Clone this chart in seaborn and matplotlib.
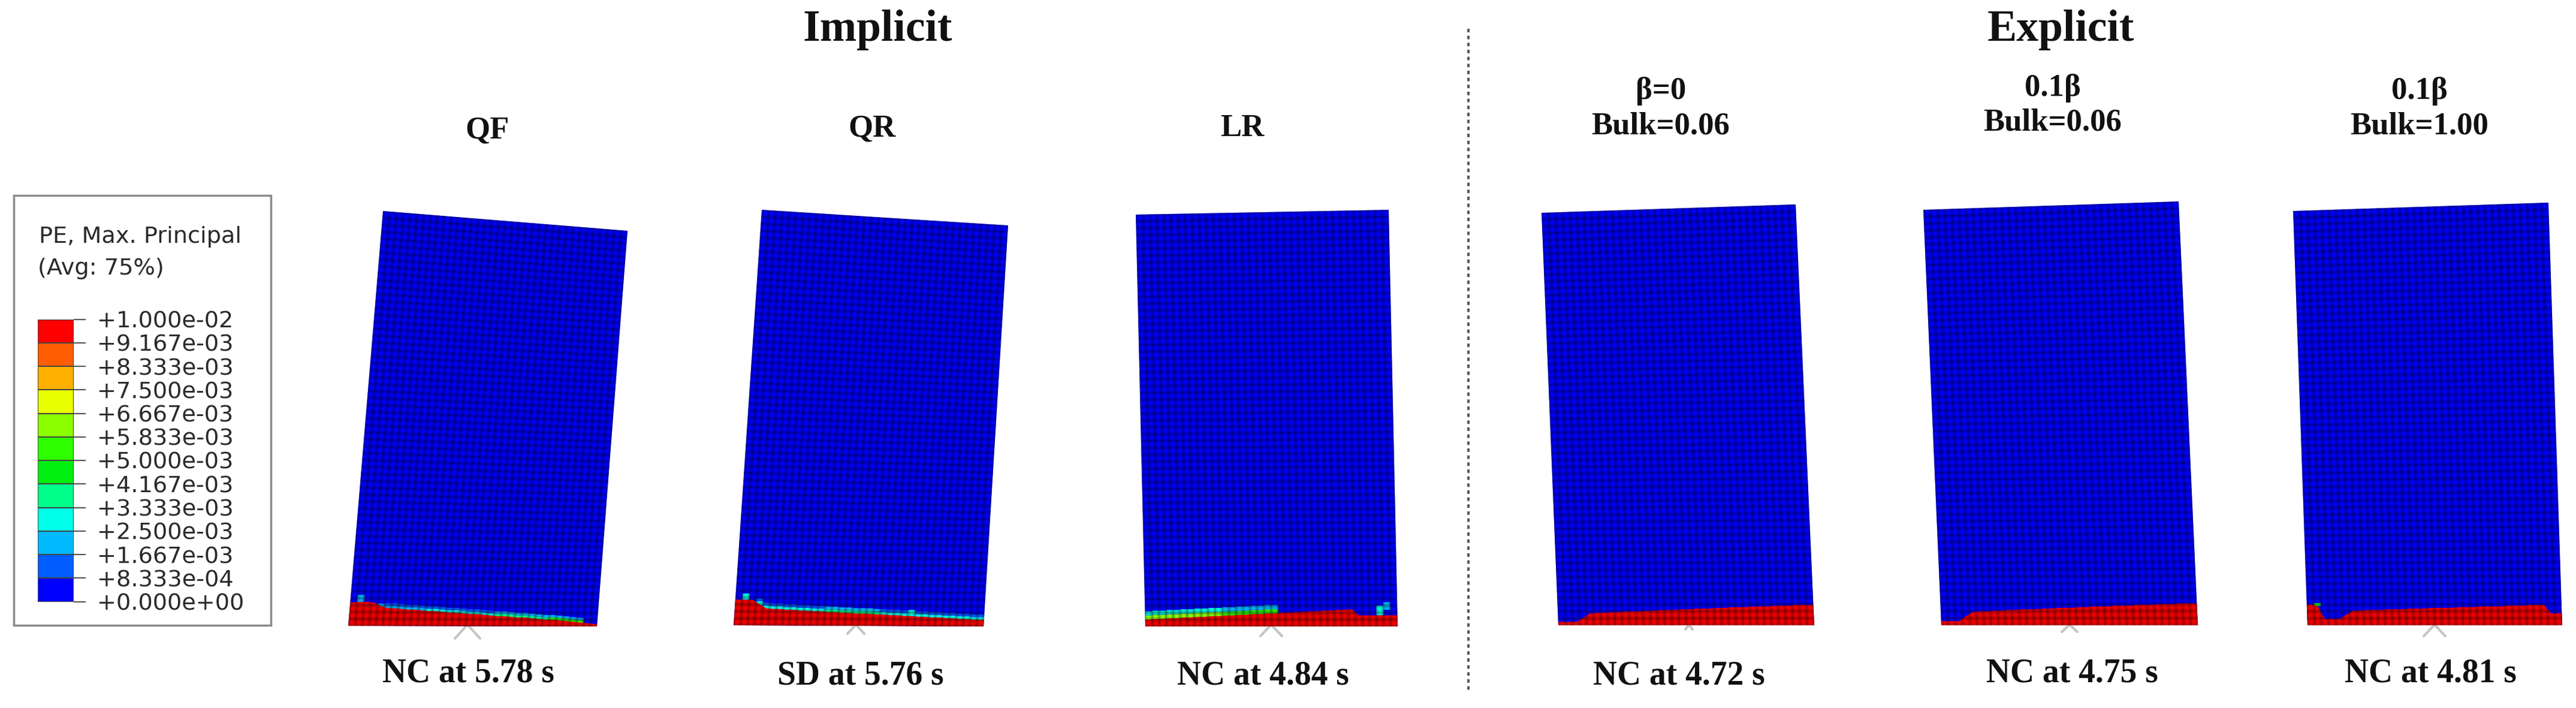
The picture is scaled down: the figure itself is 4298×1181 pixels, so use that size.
import numpy as np
import seaborn as sns
import matplotlib.pyplot as plt
from matplotlib.colors import ListedColormap

W, H = 4298, 1181

# legend
level_labels = ['+1.000e-02', '+9.167e-03', '+8.333e-03', '+7.500e-03', '+6.667e-03',
                '+5.833e-03', '+5.000e-03', '+4.167e-03', '+3.333e-03', '+2.500e-03',
                '+1.667e-03', '+8.333e-04', '+0.000e+00']
level_values = [0.01, 0.009167, 0.008333, 0.0075, 0.006667, 0.005833, 0.005,
                0.004167, 0.003333, 0.0025, 0.001667, 0.000833, 0.0]
level_colors = ['#ff0000', '#ff5d00', '#ffb000', '#e8ff00', '#8bff00', '#2eff00',
                '#00ee10', '#00ff8b', '#00ffe8', '#00b9ff', '#005dff', '#0000ff']

# 표 윗줄 글자
group_names = ['Implicit', 'Explicit']
panel_heads = ['QF', 'QR', 'LR', 'β=0\nBulk=0.06', '0.1β\nBulk=0.06', '0.1β\nBulk=1.00']
panel_feet = ['NC at 5.78 s', 'SD at 5.76 s', 'NC at 4.84 s',
              'NC at 4.72 s', 'NC at 4.75 s', 'NC at 4.81 s']

# height of the red zone in each element column, in element rows
qf_red = [3.4, 3.5, 3.5, 3.4, 2.9, 2.6, 2.6, 2.5, 2.4, 2.4, 2.3, 2.2, 2.2, 2.1, 2.0, 2.0, 1.9, 1.8,
          1.8, 1.7, 1.6, 1.5, 1.5, 1.4, 1.3, 1.3, 1.2, 1.1, 1.0, 1.0, 0.9, 0.8, 0.7, 0.6, 0.5, 0.4]
qr_red = [3.7, 3.7, 3.7, 3.1, 2.5, 2.4, 2.4, 2.3, 2.3, 2.2, 2.2, 2.1, 2.1, 2.0, 2.0, 1.9, 1.9, 1.8,
          1.8, 1.8, 1.7, 1.7, 1.6, 1.6, 1.5, 1.5, 1.4, 1.4, 1.3, 1.3, 1.2, 1.2, 1.1, 1.1, 1.0, 1.0]
lr_red = [1.0, 1.1, 1.1, 1.2, 1.2, 1.3, 1.3, 1.4, 1.4, 1.5, 1.5, 1.6, 1.6, 1.7, 1.7, 1.8, 1.8, 1.9,
          1.9, 2.0, 2.0, 2.1, 2.1, 2.2, 2.2, 2.3, 2.3, 2.4, 2.4, 2.5, 1.6, 1.6, 1.6, 1.6, 1.6, 1.6]
e1_red = [0.5, 0.5, 0.5, 1.0, 1.7, 1.8, 1.8, 1.9, 1.9, 2.0, 2.0, 2.0, 2.1, 2.1, 2.2, 2.2, 2.2, 2.3,
          2.3, 2.4, 2.4, 2.4, 2.5, 2.5, 2.6, 2.6, 2.6, 2.7, 2.7, 2.7, 2.8, 2.8, 2.8, 2.9, 2.9, 2.9]
e2_red = [0.6, 0.6, 0.6, 1.3, 1.9, 2.0, 2.0, 2.1, 2.1, 2.2, 2.2, 2.3, 2.3, 2.3, 2.4, 2.4, 2.5, 2.5,
          2.5, 2.6, 2.6, 2.7, 2.7, 2.7, 2.8, 2.8, 2.8, 2.9, 2.9, 2.9, 3.0, 3.0, 3.0, 3.1, 3.1, 3.1]
e3_red = [3.0, 2.8, 0.9, 0.9, 0.9, 1.5, 2.1, 2.1, 2.2, 2.2, 2.2, 2.3, 2.3, 2.3, 2.4, 2.4, 2.4, 2.5,
          2.5, 2.5, 2.5, 2.6, 2.6, 2.6, 2.7, 2.7, 2.7, 2.7, 2.8, 2.8, 2.8, 2.9, 2.9, 2.9, 1.7, 1.7]

# strain just above the red zone in each column (0 = none)
qf_band = [0, 0, 0, 0, .0017, .002, .002, .002, .002, .002, .002, .003, .003, .003, .003, .003, .003, .003,
           .003, .003, .003, .004, .004, .004, .004, .004, .004, .004, .004, .0055, .0055, .0055, .0055, .0055, 0, 0]
qr_band = [0, 0, 0, .0025, .003, .003, .003, .003, .003, .003, .003, .003, .003, .004, .004, .004, .004, .004,
           .004, .004, .004, .003, .003, .003, .003, .003, .003, .003, .003, .003, .003, .003, .003, .003, .003, .003]
lr_band = [.0062, .0062, .0062, .0062, .0062, .0062, .0062, .0062, .0062, .0062, .0062, .0052, .0052, .0052, .0052,
           .0052, .0052, .0052, .0052, 0, 0, 0, 0, 0, 0, 0, 0, 0, 0, 0,
           0, 0, 0, 0, 0, 0]
no_band = [0] * 36

# single hot elements: column, from row, to row, strain
qf_spots = [(1, 3.4, 4.5, .0017)]
qr_spots = [(1, 3.7, 4.6, .0025), (25, 1.8, 2.4, .0025)]
lr_spots = [(33, 1.6, 3.0, .0025), (34, 2.4, 3.5, .0017)]
e3_spots = [(1, 2.8, 3.2, .005)]

# 화면 배치: corners are TL, TR, BR, BL in pixels
panels = [
    dict(red=qf_red, band=qf_band, spots=qf_spots, band_rows=.35, corners=[(639, 352), (1047, 385), (996, 1045), (581, 1044)],
         head=(813, 230), foot=(781, 1138), mark=(780, 1042, 21, 23)),
    dict(red=qr_red, band=qr_band, spots=qr_spots, band_rows=.4, corners=[(1271, 350), (1682, 376), (1641, 1045), (1224, 1043)],
         head=(1455, 227), foot=(1436, 1142), mark=(1428, 1042, 14, 15)),
    dict(red=lr_red, band=lr_band, spots=lr_spots, band_rows=.6, corners=[(1895, 358), (2317, 350), (2332, 1045), (1911, 1045)],
         head=(2073, 227), foot=(2107, 1142), mark=(2121, 1042, 18, 19)),
    dict(red=e1_red, band=no_band, spots=[], band_rows=0, corners=[(2572, 355), (2996, 341), (3027, 1043), (2600, 1043)],
         head=(2771, 223), foot=(2801, 1142), mark=(2818, 1042, 6, 8)),
    dict(red=e2_red, band=no_band, spots=[], band_rows=0, corners=[(3209, 350), (3635, 336), (3667, 1043), (3239, 1043)],
         head=(3425, 218), foot=(3457, 1138), mark=(3453, 1042, 13, 12)),
    dict(red=e3_red, band=no_band, spots=e3_spots, band_rows=0, corners=[(3826, 352), (4252, 338), (4275, 1043), (3850, 1043)],
         head=(4037, 223), foot=(4055, 1138), mark=(4062, 1042, 18, 19)),
]
group_pos = [(1464, 68), (3438, 68)]

N_COLS, N_ROWS = 36, 60

sns.set_theme(style='white')
plt.rcParams['font.family'] = ['DejaVu Sans']
SERIF = dict(family='Liberation Serif', weight='bold', color='#111111')

fig = plt.figure(figsize=(W / 100, H / 100), dpi=100)
ax = fig.add_axes([0, 0, 1, 1])
ax.set_xlim(0, W)
ax.set_ylim(H, 0)
ax.axis('off')


def strain_color(v):
    i = min(int(v / 0.01 * 12), 11)
    return level_colors[11 - i]


def to_px(corners, col, row):
    # 요소 좌표 -> 픽셀 (bilinear)
    tl, tr, br, bl = [np.array(c, dtype=float) for c in corners]
    u = np.asarray(col, dtype=float) / N_COLS
    v = np.asarray(row, dtype=float) / N_ROWS
    bottom = bl[:, None] * (1 - u) + br[:, None] * u
    top = tl[:, None] * (1 - u) + tr[:, None] * u
    return bottom * (1 - v) + top * v


def fill_uv(corners, cols, rows, color, z):
    xy = to_px(corners, cols, rows)
    return ax.fill(xy[0], xy[1], color=color, lw=0, zorder=z)[0]


def mesh_line(xy, clip):
    for lw, alpha in [(6, .09), (2.5, .2)]:
        line, = ax.plot(xy[0], xy[1], color='#000000', alpha=alpha, lw=lw, zorder=5, solid_capstyle='butt')
        line.set_clip_path(clip)


for p, head, foot in zip(panels, panel_heads, panel_feet):
    c = p['corners']
    body = fill_uv(c, [0, N_COLS, N_COLS, 0], [0, 0, N_ROWS, N_ROWS], '#0000ff', 2)

    # red zone, column centres joined
    centres = np.arange(N_COLS) + 0.5
    top_cols = np.r_[0, centres, N_COLS]
    top_rows = np.r_[p['red'][0], p['red'], p['red'][-1]]

    # band above red, two layers fading to blue
    if p['band_rows'] > 0:
        t = p['band_rows']
        for i, val in enumerate(p['band']):
            if val == 0:
                continue
            h = p['red'][i]
            fill_uv(c, [i, i + 1, i + 1, i], [h - .2, h - .2, h + t, h + t], strain_color(val), 3)
            fill_uv(c, [i, i + 1, i + 1, i], [h + t, h + t, h + 2 * t, h + 2 * t], strain_color(val * .45), 3)
    for col, r0, r1, val in p['spots']:
        fill_uv(c, [col, col + 1, col + 1, col], [r0, r0, r1, r1], strain_color(val), 3)

    fill_uv(c, np.r_[0, top_cols, N_COLS], np.r_[0, top_rows, 0], '#f80000', 4)

    # 요소망
    for col in range(N_COLS + 1):
        mesh_line(to_px(c, [col, col], [0, N_ROWS]), body)
    for row in range(N_ROWS + 1):
        mesh_line(to_px(c, [0, N_COLS], [row, row]), body)

    # support mark under the base
    mx, my, dx, dy = p['mark']
    ax.plot([mx - dx, mx, mx + dx], [my + dy, my, my + dy], color='#c4c4c4', lw=3, zorder=1)

    ax.text(p['head'][0], p['head'][1], head, ha='center', va='baseline', ma='center',
            fontsize=38, linespacing=1.26, **SERIF)
    ax.text(p['foot'][0], p['foot'][1], foot, ha='center', va='baseline', fontsize=40, **SERIF)

for name, (x, y) in zip(group_names, group_pos):
    ax.text(x, y, name, ha='center', va='baseline', fontsize=53, **SERIF)

ax.plot([2450, 2450], [48, 1155], color='#555555', lw=2.8, ls=(0, (1.5, 1.5)), zorder=1)

# legend box + colour bar
ax.add_patch(plt.Rectangle((23, 326), 429, 717, fc='white', ec='#8a8a8a', lw=2.5, zorder=1))
ax.text(65, 405, 'PE, Max. Principal', fontsize=27.5, color='#2a2a2a', va='baseline')
ax.text(63, 458, '(Avg: 75%)', fontsize=27.5, color='#2a2a2a', va='baseline')

bar = fig.add_axes([63 / W, 1 - 1003.5 / H, 60 / W, 471 / H])
mids = (np.array(level_values[:-1]) + np.array(level_values[1:])) / 2
cell_map = ListedColormap(level_colors[::-1])
sns.heatmap(mids.reshape(-1, 1), cmap=cell_map, vmin=0, vmax=0.01, cbar=False,
            linewidths=1.2, linecolor='#444444', xticklabels=False, ax=bar)
bar.yaxis.tick_right()
bar.set_yticks(np.arange(len(level_labels)))
bar.set_yticklabels(level_labels, rotation=0, fontsize=27.5, color='#2a2a2a')
bar.tick_params(axis='y', length=14.4, width=1.5, color='#555555', pad=14, right=True, left=False)

fig.savefig('out.png', dpi=100)
